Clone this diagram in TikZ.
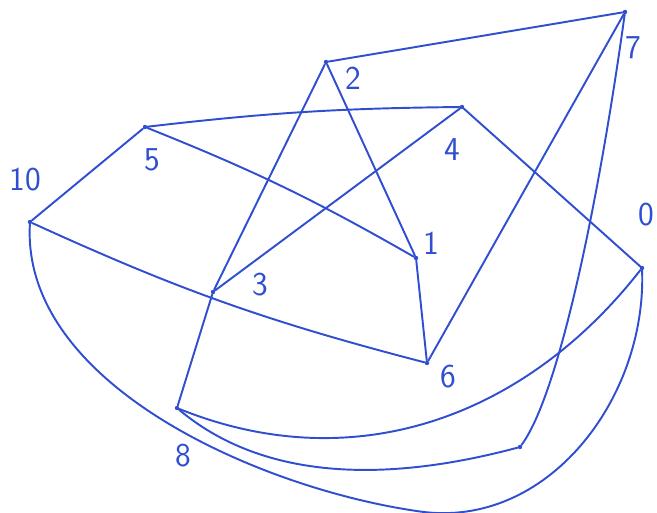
\documentclass[tikz,border=0pt]{standalone}
\usepackage{tikz}
\usetikzlibrary{calc}
\definecolor{inkblue}{RGB}{48,78,208}

\begin{document}
\begin{tikzpicture}[
  font=\sffamily\fontsize{19}{22}\selectfont,
  vertex/.style={circle, fill=inkblue, inner sep=0pt, minimum size=2.5pt},
  tag/.style={text=inkblue, inner sep=1pt},
  edge/.style={inkblue, line width=1.1pt, line cap=round, line join=round}
]
  \useasboundingbox (0,0) rectangle (13.14,10.26);

  % vertices
  \node[vertex] (v7)  at (12.50,10.02) {};
  \node[vertex] (v2)  at (6.52,9.02) {};
  \node[vertex] (v4)  at (9.24,8.12) {};
  \node[vertex] (v5)  at (2.90,7.72) {};
  \node[vertex] (v10) at (0.60,5.82) {};
  \node[vertex] (v1)  at (8.32,5.10) {};
  \node[vertex] (v0)  at (12.84,4.90) {};
  \node[vertex] (v3)  at (4.26,4.42) {};
  \node[vertex] (v6)  at (8.54,3.00) {};
  \node[vertex] (v8)  at (3.54,2.10) {};
  \node[vertex] (v9)  at (10.40,1.32) {};
  \coordinate (low) at (8.40,0.03);

  % labels
  \node[tag] (t7)  at (12.66,9.30) {7};
  \node[tag] (t2)  at (7.06,8.70) {2};
  \node[tag] (t4)  at (9.04,7.26) {4};
  \node[tag] (t5)  at (3.04,7.06) {5};
  \node[tag] (t10) at (0.50,6.66) {10};
  \node[tag] (t1)  at (8.62,5.40) {1};
  \node[tag] (t0)  at (12.92,5.96) {0};
  \node[tag] (t3)  at (5.20,4.56) {3};
  \node[tag] (t6)  at (8.96,2.72) {6};
  \node[tag] (t8)  at (3.66,1.14) {8};

  % straight-ish edges
  \draw[edge] (v2) -- (v7);
  \draw[edge] (v7) -- (v6);
  \draw[edge] (v2) -- (v3);
  \draw[edge] (v2) -- (v1);
  \draw[edge] (v5) to[bend left=3] (v4);
  \draw[edge] (v5) to[bend left=4] (v1);
  \draw[edge] (v5) -- (v10);
  \draw[edge] (v4) -- (v3);
  \draw[edge] (v4) -- (v0);
  \draw[edge] (v10) to[bend right=5] (v6);
  \draw[edge] (v1) -- (v6);
  \draw[edge] (v3) -- (v8);

  % curved edges
  \draw[edge] (v7) .. controls (12.0,6.4) and (11.2,2.4) .. (v9);
  \draw[edge] (v8) to[out=-22,in=-128,looseness=1.0] (v0);
  \draw[edge] (v8) to[out=-40,in=195,looseness=0.9] (v9);
  \draw[edge] (v10) to[out=-93,in=172,looseness=0.85] (low)
    to[out=-8,in=-88,looseness=1.0] (v0);
\end{tikzpicture}
\end{document}
